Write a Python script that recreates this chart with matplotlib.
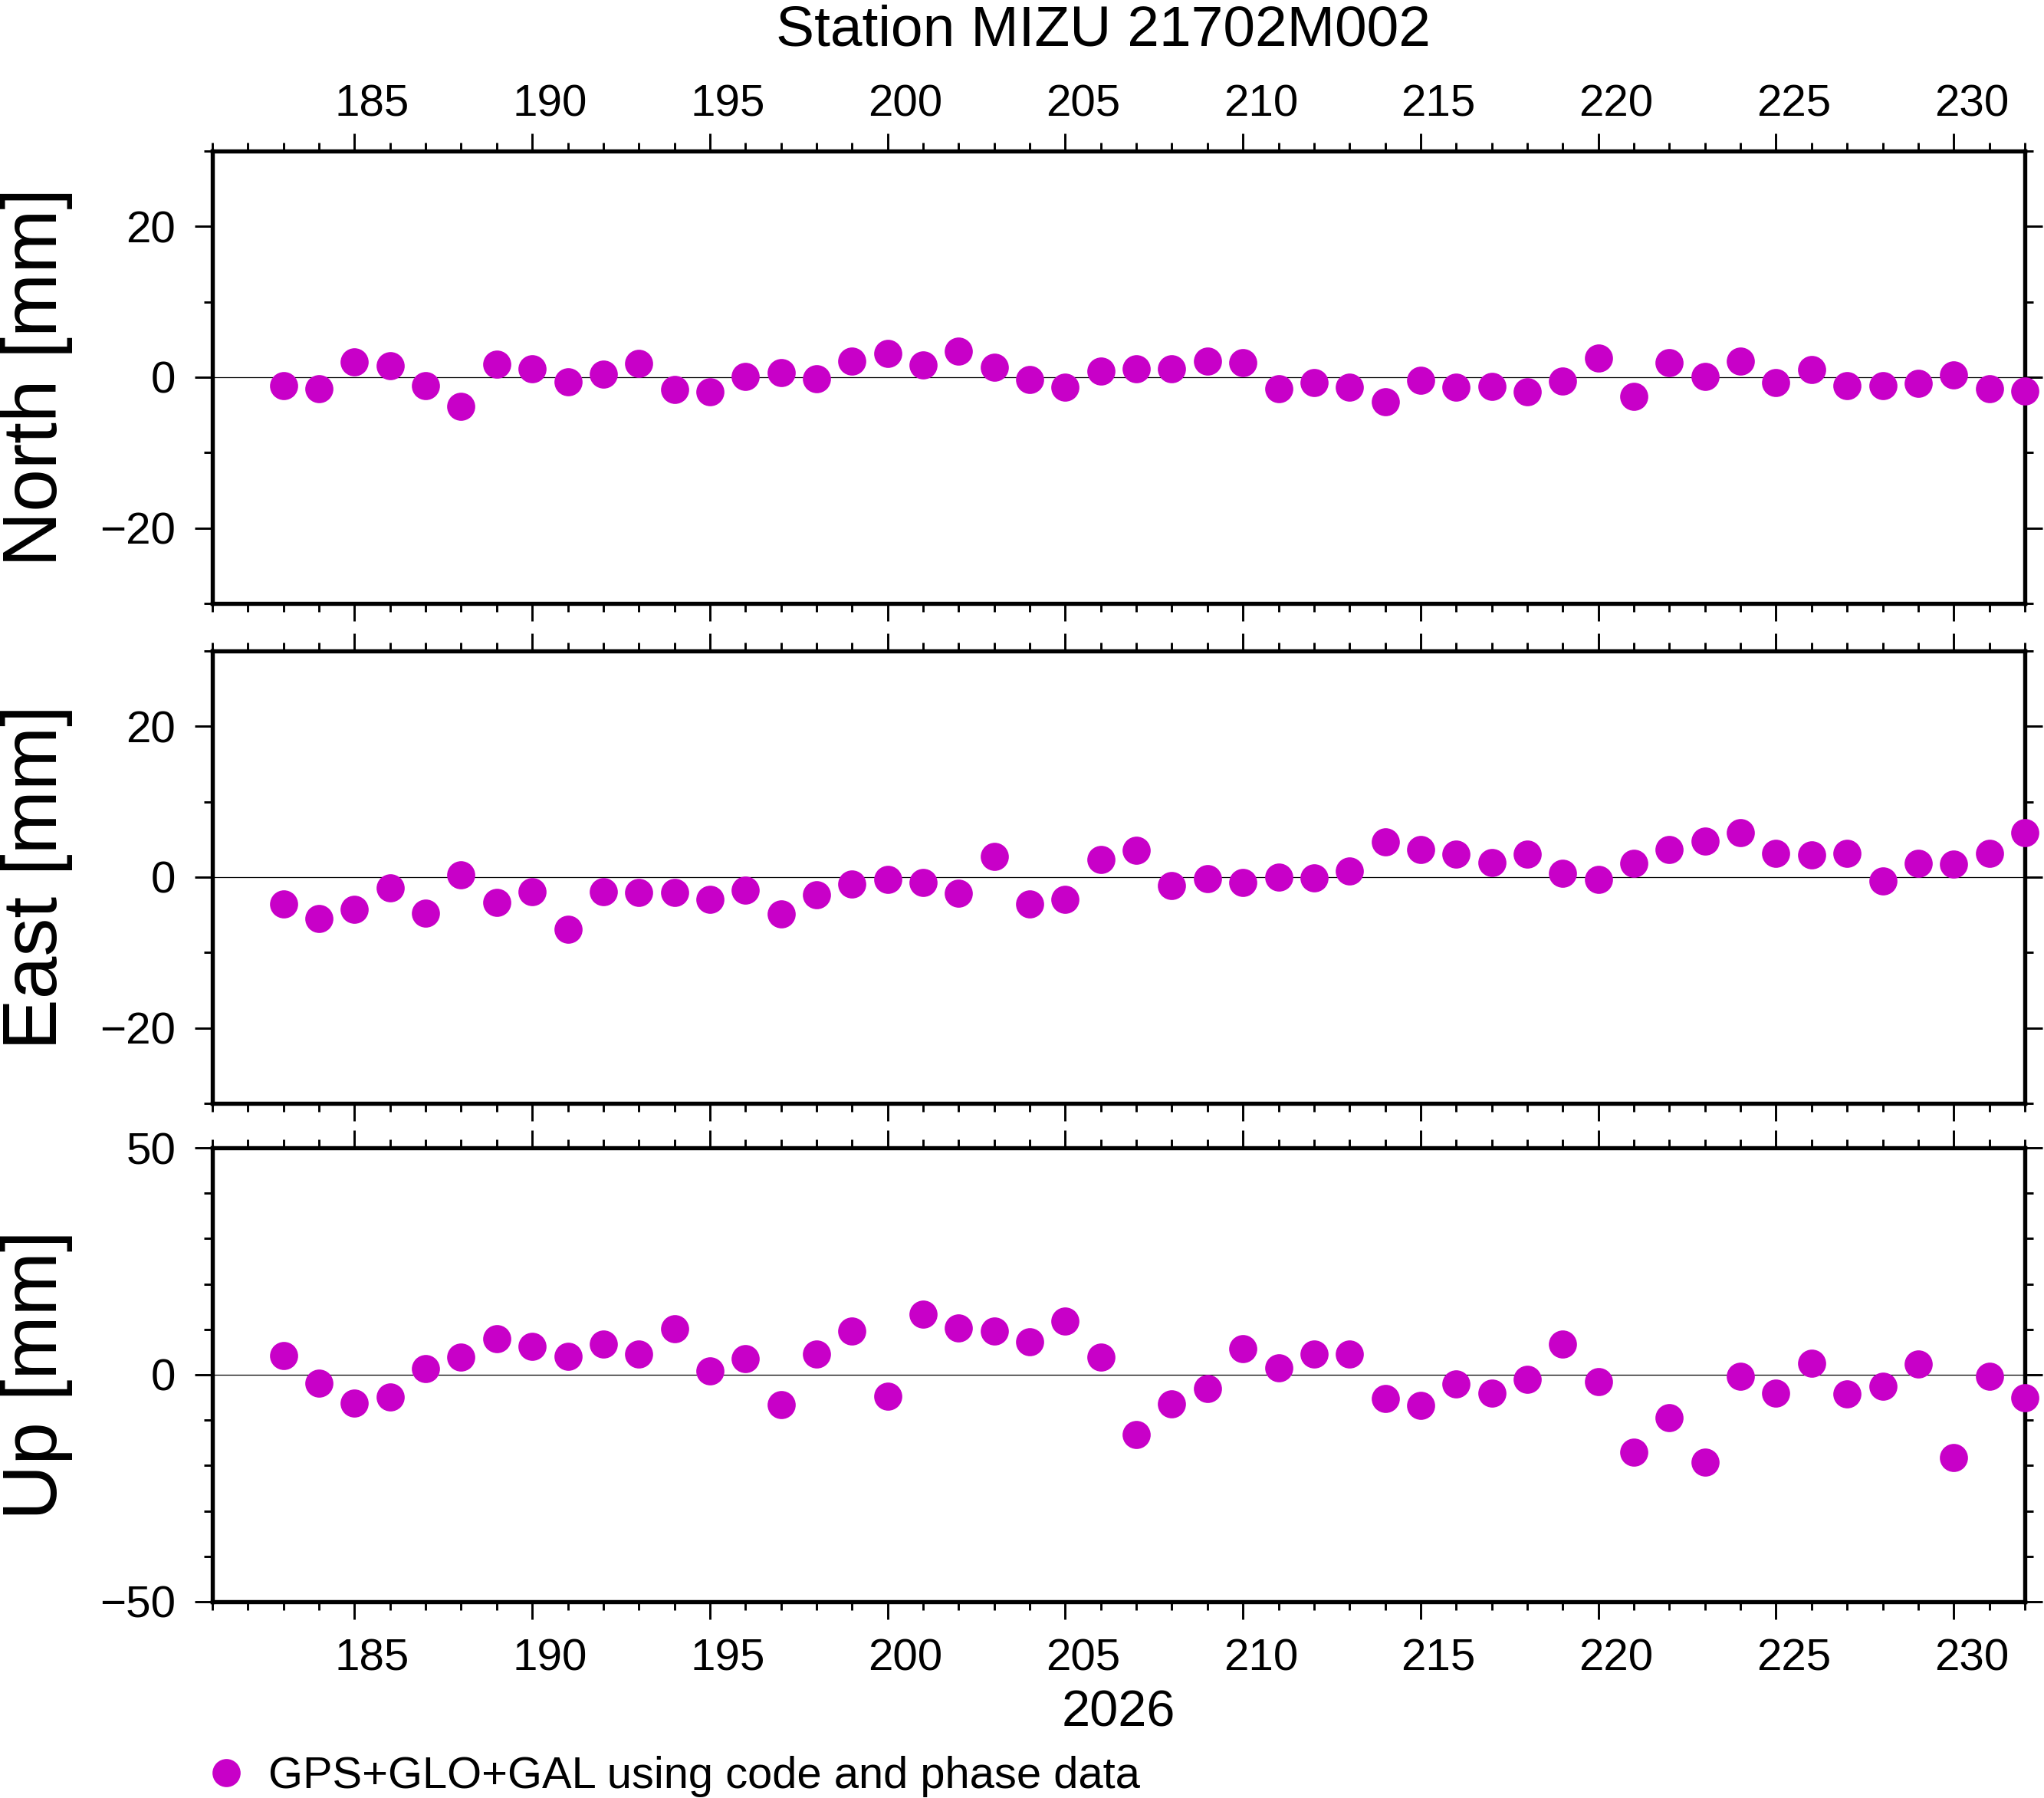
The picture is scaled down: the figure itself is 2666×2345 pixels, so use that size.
import matplotlib
matplotlib.use("Agg")
import matplotlib.pyplot as plt
from matplotlib.ticker import MultipleLocator
from matplotlib.transforms import ScaledTranslation

plt.rcParams["font.family"] = ["Liberation Sans", "DejaVu Sans"]

# day of year 2026
doy = [183, 184, 185, 186, 187, 188, 189, 190, 191, 192,
       193, 194, 195, 196, 197, 198, 199, 200, 201, 202,
       203, 204, 205, 206, 207, 208, 209, 210, 211, 212,
       213, 214, 215, 216, 217, 218, 219, 220, 221, 222,
       223, 224, 225, 226, 227, 228, 229, 230, 231, 232]

north = [-1.1, -1.5, 2.0, 1.5, -1.1, -3.9, 1.7, 1.1, -0.6, 0.4,
         1.8, -1.6, -1.9, 0.1, 0.6, -0.2, 2.1, 3.15, 1.6, 3.5,
         1.3, -0.3, -1.3, 0.8, 1.1, 1.1, 2.1, 1.9, -1.5, -0.7,
         -1.3, -3.3, -0.4, -1.3, -1.2, -1.9, -0.5, 2.5, -2.5, 1.9,
         0.1, 2.1, -0.7, 1.0, -1.1, -1.1, -0.8, 0.3, -1.5, -1.8]

east = [-3.6, -5.5, -4.3, -1.4, -4.8, 0.3, -3.4, -1.9, -6.9, -1.9,
        -2.0, -2.0, -3.0, -1.7, -4.9, -2.3, -0.9, -0.3, -0.7, -2.1,
        2.7, -3.6, -3.0, 2.3, 3.5, -1.1, -0.2, -0.7, 0.0, -0.1,
        0.8, 4.7, 3.7, 3.0, 1.9, 3.0, 0.5, -0.3, 1.8, 3.7,
        4.8, 5.9, 3.1, 2.9, 3.1, -0.5, 1.8, 1.7, 3.1, 5.9]

up = [4.2, -1.9, -6.2, -4.9, 1.3, 3.9, 7.9, 6.2, 4.0, 6.7,
      4.6, 10.2, 0.8, 3.5, -6.6, 4.6, 9.7, -4.8, 13.4, 10.3,
      9.7, 7.3, 11.9, 3.9, -13.1, -6.5, -3.0, 5.8, 1.6, 4.6,
      4.6, -5.3, -6.7, -2.1, -4.0, -1.1, 6.8, -1.5, -17.1, -9.4,
      -19.2, -0.3, -4.0, 2.6, -4.3, -2.6, 2.4, -18.3, -0.4, -5.0]

panel_labels = ["North [mm]", "East [mm]", "Up [mm]"]
panel_values = [north, east, up]
panel_limits = [30, 30, 50]
panel_major = [20, 20, 50]

title = "Station MIZU 21702M002"
year_label = "2026"
legend_label = "GPS+GLO+GAL using code and phase data"
dot_color = "#c800c8"

fig_w, fig_h = 2666 / 300, 2345 / 300
fig = plt.figure(figsize=(fig_w, fig_h), dpi=300)

left, width = 0.1039, 0.8867
bottoms = [0.6644, 0.3864, 0.1092]
heights = [0.2516, 0.2516, 0.2524]
xmin, xmax = 181, 232

# GMT puts the day annotations in the middle of the day interval
half_day = ScaledTranslation(0.5 / (xmax - xmin) * width * fig_w, 0, fig.dpi_scale_trans)

axes = []
for i in range(3):
    ax = fig.add_axes([left, bottoms[i], width, heights[i]])
    ax.axhline(0, color="black", lw=0.3, zorder=1)
    line, = ax.plot(doy, panel_values[i], "o", ms=8.8, color=dot_color, mec="none",
                    clip_on=False, zorder=3, label=legend_label)
    ax.set_xlim(xmin, xmax)
    ax.set_ylim(-panel_limits[i], panel_limits[i])
    ax.xaxis.set_major_locator(MultipleLocator(5))
    ax.xaxis.set_minor_locator(MultipleLocator(1))
    ax.yaxis.set_major_locator(MultipleLocator(panel_major[i]))
    ax.yaxis.set_minor_locator(MultipleLocator(10))

    ax.tick_params(which="both", direction="out", top=True, right=True, width=0.7,
                   labelsize=14, color="black")
    ax.tick_params(which="major", length=5.5)
    ax.tick_params(which="minor", length=2.6)
    ax.tick_params(axis="y", pad=6)
    ax.tick_params(axis="x", labelbottom=(i == 2), labeltop=(i == 0),
                   pad=(2.6 if i == 0 else 6))
    for s in ax.spines.values():
        s.set_linewidth(1.3)

    ax.set_ylabel(panel_labels[i], fontsize=24)
    ax.yaxis.set_label_coords(-0.077, 0.5)

    for tick in ax.xaxis.get_major_ticks():
        tick.label1.set_transform(tick.label1.get_transform() + half_day)
        tick.label2.set_transform(tick.label2.get_transform() + half_day)
    axes.append(ax)

axes[2].set_xlabel(year_label, fontsize=16, labelpad=3)

fig.text(0.5398, 1 - 59 / 2345, title, ha="center", va="baseline", fontsize=18)

fig.legend(handles=[line], loc="center left", bbox_to_anchor=(266 / 2666, 1 - 2317 / 2345),
           frameon=False, handlelength=1.0, handletextpad=0.45, borderpad=0,
           borderaxespad=0, fontsize=13.9)

fig.savefig("out.png", dpi=300)
